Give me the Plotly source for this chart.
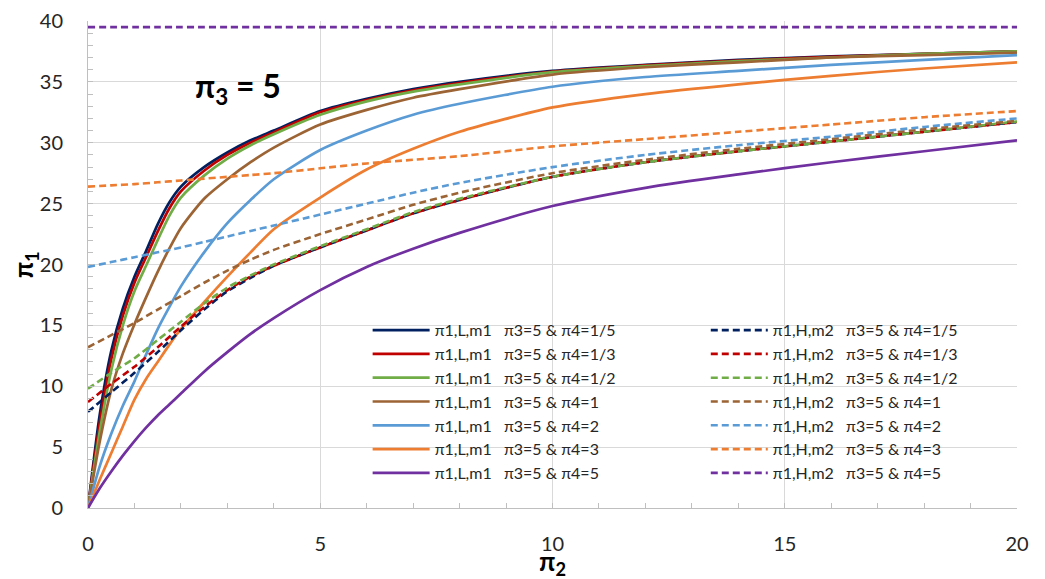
import plotly.graph_objects as go

# π2 sample points for the L,m1 curves (solid) and the H,m2 curves (dashed)
x_solid = [0, 0.25, 0.5, 0.75, 1, 1.25, 1.5, 1.75, 2, 2.5, 3, 3.5, 4, 5, 6, 7, 8, 10, 12, 14, 16, 18, 20]
x_dash = [0, 0.5, 1, 1.5, 2, 2.5, 3, 3.5, 4, 5, 6, 7, 8, 10, 12, 14, 16, 18, 20]

pi4_labels = ["1/5", "1/3", "1/2", "1", "2", "3", "5"]
colors = ["#002060", "#C00000", "#70AD47", "#9C6434", "#5B9BD5", "#ED7D31", "#7030A0"]

# π1,L,m1 (π3 = 5)
l_m1 = [
    [0, 7.6, 12.9, 16.4, 19.0, 21.1, 23.3, 25.1, 26.4, 28.0, 29.2, 30.2, 31.0, 32.6, 33.6, 34.4, 35.0, 35.9, 36.4, 36.8, 37.1, 37.3, 37.5],
    [0, 6.9, 12.2, 15.8, 18.5, 20.6, 22.7, 24.6, 26.0, 27.7, 29.0, 30.0, 30.85, 32.5, 33.5, 34.3, 34.9, 35.85, 36.35, 36.75, 37.05, 37.3, 37.5],
    [0, 6.2, 11.3, 15.0, 17.8, 19.9, 22.0, 24.0, 25.5, 27.3, 28.7, 29.8, 30.7, 32.3, 33.4, 34.2, 34.8, 35.8, 36.3, 36.7, 37.0, 37.3, 37.5],
    [0, 5.4, 9.7, 12.7, 15.1, 17.3, 19.4, 21.3, 23.0, 25.4, 27.0, 28.4, 29.6, 31.5, 32.7, 33.7, 34.4, 35.6, 36.2, 36.6, 37.0, 37.2, 37.4],
    [0, 3.4, 6.1, 8.4, 10.4, 12.6, 14.7, 16.5, 18.2, 21.0, 23.4, 25.3, 27.0, 29.4, 31.0, 32.3, 33.2, 34.6, 35.4, 35.9, 36.4, 36.8, 37.2],
    [0, 2.3, 4.5, 6.7, 8.9, 10.6, 12.0, 13.4, 14.7, 16.9, 19.0, 21.0, 22.9, 25.5, 27.8, 29.5, 30.9, 32.9, 34.0, 34.8, 35.5, 36.1, 36.6],
    [0, 1.6, 3.0, 4.3, 5.5, 6.6, 7.6, 8.5, 9.4, 11.2, 12.8, 14.3, 15.6, 17.9, 19.8, 21.3, 22.6, 24.8, 26.3, 27.4, 28.4, 29.3, 30.2],
]

# π1,H,m2 (π3 = 5)
h_m2 = [
    [7.9, 9.5, 11.1, 12.8, 14.6, 16.3, 17.8, 18.9, 19.9, 21.4, 22.8, 24.2, 25.3, 27.2, 28.4, 29.3, 30.1, 30.9, 31.7],
    [8.7, 10.2, 11.6, 13.2, 14.9, 16.5, 17.9, 19.0, 19.9, 21.4, 22.8, 24.2, 25.3, 27.2, 28.4, 29.3, 30.1, 30.9, 31.7],
    [9.8, 11.1, 12.3, 13.8, 15.3, 16.8, 18.1, 19.1, 20.0, 21.5, 22.9, 24.3, 25.4, 27.2, 28.4, 29.3, 30.1, 30.9, 31.75],
    [13.2, 14.2, 15.2, 16.3, 17.4, 18.5, 19.5, 20.4, 21.2, 22.5, 23.7, 24.9, 25.9, 27.5, 28.6, 29.5, 30.3, 31.1, 31.8],
    [19.8, 20.2, 20.6, 21.0, 21.4, 21.85, 22.3, 22.75, 23.2, 24.1, 25.0, 25.9, 26.7, 28.0, 29.0, 29.8, 30.5, 31.3, 32.0],
    [26.4, 26.5, 26.6, 26.75, 26.9, 27.05, 27.2, 27.35, 27.5, 27.9, 28.3, 28.6, 28.9, 29.7, 30.3, 30.9, 31.5, 32.1, 32.6],
    [39.5] * 19,
]

FONT = "Lato, 'Noto Sans', sans-serif"
SP = "\u00a0\u00a0\u00a0"

fig = go.Figure()

for ys, c, p4 in zip(l_m1, colors, pi4_labels):
    fig.add_trace(go.Scatter(
        x=x_solid, y=ys, mode="lines",
        line=dict(color=c, width=2.7, shape="spline", smoothing=0.7),
        name=f"π1,L,m1{SP}π3=5 & π4={p4}", legend="legend",
    ))

for ys, c, p4 in zip(h_m2, colors, pi4_labels):
    fig.add_trace(go.Scatter(
        x=x_dash, y=ys, mode="lines",
        line=dict(color=c, width=2.6, dash="7px,4px", shape="spline", smoothing=0.7),
        name=f"π1,H,m2{SP}π3=5 & π4={p4}", legend="legend2",
    ))

legend_style = dict(
    bgcolor="rgba(0,0,0,0)", borderwidth=0, tracegroupgap=0,
    font=dict(family=FONT, size=16, color="#262626"),
    xanchor="left", yanchor="top", itemwidth=57, traceorder="normal",
)

axis_common = dict(
    showline=True, linecolor="#BFBFBF", linewidth=1,
    showgrid=True, gridcolor="#D9D9D9", gridwidth=1,
    zeroline=False, ticks="inside", ticklen=5, tickcolor="#BFBFBF",
    tickfont=dict(family=FONT, size=20, color="#262626"),
    minor=dict(dtick=1, ticks="inside", ticklen=5, tickcolor="#BFBFBF", showgrid=False),
    automargin=False,
)

fig.update_layout(
    width=1045, height=579,
    margin=dict(l=88, r=28, t=21, b=71),
    paper_bgcolor="white", plot_bgcolor="white",
    font=dict(family=FONT, color="#262626"),
    xaxis=dict(range=[0, 20], dtick=5, ticklabelstandoff=18, **axis_common),
    yaxis=dict(range=[0, 40], dtick=5, ticklabelstandoff=20, **axis_common),
    legend=dict(x=0.301, y=0.40, **legend_style),
    legend2=dict(x=0.665, y=0.40, **legend_style),
    annotations=[
        dict(x=3.22, y=34.5, xref="x", yref="y", showarrow=False,
             text="<b>π<sub>3</sub> = 5</b>",
             font=dict(family=FONT, size=32, color="#000000")),
        # axis titles
        dict(x=10, y=-0.112, xref="x", yref="paper", showarrow=False,
             xanchor="center", yanchor="middle",
             text="<b>π<sub>2</sub></b>",
             font=dict(family=FONT, size=26, color="#000000")),
        dict(x=-0.068, y=0.5, xref="paper", yref="paper", showarrow=False,
             xanchor="center", yanchor="middle", textangle=-90,
             text="<b>π<sub>1</sub></b>",
             font=dict(family=FONT, size=26, color="#000000")),
    ],
)

fig.write_html("out.html")
